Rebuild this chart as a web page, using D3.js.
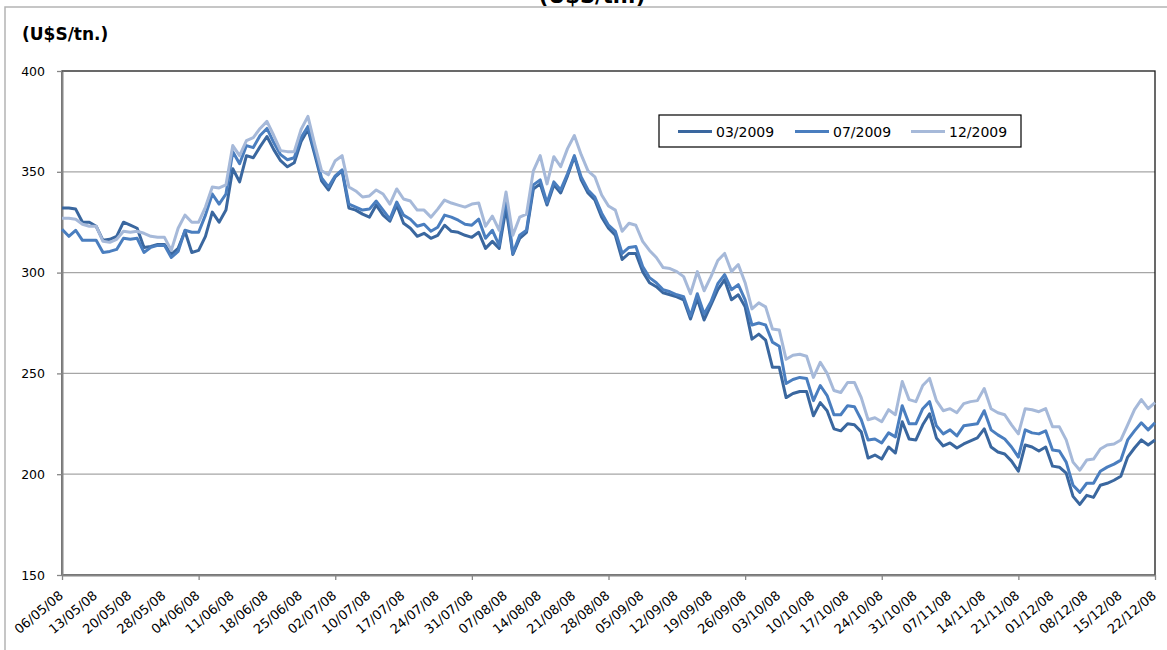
<!DOCTYPE html>
<html>
<head>
<meta charset="utf-8">
<script src="https://cdn.jsdelivr.net/npm/d3@7"></script>
<style>
  body { margin: 0; background: #fff; }
  svg { display: block; font-family: "DejaVu Sans", Verdana, sans-serif; }
</style>
</head>
<body>
<svg id="chart" width="1167" height="650"></svg>
<script>
// labels shown every 5th point on the category axis
const tickLabels = ["06/05/08", "13/05/08", "20/05/08", "28/05/08", "04/06/08", "11/06/08", "18/06/08",
  "25/06/08", "02/07/08", "10/07/08", "17/07/08", "24/07/08", "31/07/08", "07/08/08", "14/08/08",
  "21/08/08", "28/08/08", "05/09/08", "12/09/08", "19/09/08", "26/09/08", "03/10/08", "10/10/08",
  "17/10/08", "24/10/08", "31/10/08", "07/11/08", "14/11/08", "21/11/08", "01/12/08", "08/12/08",
  "15/12/08", "22/12/08"];

const seriesNames = ["03/2009", "07/2009", "12/2009"];

const mar09 = [
  332, 332, 331.5, 325, 325, 323, 316, 316.5, 318, 325,
  323.5, 322, 312.5, 313, 314, 314, 309, 312, 320.5, 310,
  311, 318, 330, 325, 331, 351.5, 345, 358, 357, 362.5,
  367.5, 361, 355.5, 352.5, 354.5, 365, 371, 358.5, 345.5, 341,
  347.5, 350.5, 332, 331, 329, 327.5, 333.5, 328.5, 325.5, 333.5,
  324.5, 322, 318, 319.5, 317, 318.5, 323.5, 320.5, 320, 318.5,
  317.5, 320, 312, 315.5, 312, 332, 309, 317, 320, 341.5,
  344, 333.5, 343.5, 339.5, 348, 357.5, 346, 339.5, 336, 327.5,
  322, 318.5, 306.5, 309.5, 309.5, 300.5, 295, 293, 290, 289,
  288, 286.5, 277, 287, 276.5, 284, 291.5, 296.5, 286.5, 289,
  283, 267, 269.5, 266.5, 253, 253, 238, 240, 241, 241,
  229, 235.5, 231.5, 222.5, 221.5, 225, 224.5, 221, 208, 209.5,
  207.5, 213.5, 210.5, 226, 217.5, 217, 224.5, 230, 218, 214,
  215.5, 213, 215, 216.5, 218, 222.5, 213.5, 211, 210, 206.5,
  201.5, 214.5, 213.5, 211.5, 213.5, 204, 203.5, 200.5, 189, 185,
  189.5, 188.5, 194.5, 195.5, 197, 199, 208.5, 213, 217, 214.5, 217
];

const jul09 = [
  321.5, 318, 321, 316, 316, 316, 310, 310.5, 311.5, 317,
  316.5, 317, 310, 312.5, 313.5, 313.5, 307.5, 310.5, 321, 320,
  320, 328.5, 339, 334, 339, 360, 354, 363, 362, 368,
  371.5, 364.5, 358.5, 356, 357, 367, 372.5, 360, 347, 342.5,
  348, 351, 334, 332.5, 331, 331.5, 335.5, 331, 326.5, 335,
  328.5, 326.5, 323, 324, 320.5, 322.5, 328.5, 327.5, 326, 324,
  323.5, 326.5, 317, 321, 313.5, 337.5, 309.5, 318.5, 321, 343.5,
  346, 334.5, 345, 341, 349, 358, 347.5, 341, 337.5, 329.5,
  323.5, 320.5, 309.5, 312.5, 313, 303, 297.5, 295, 291.5, 290.5,
  289, 288, 278.5, 289.5, 279.5, 285.5, 294.5, 299, 291.5, 294,
  286.5, 274, 275, 274, 265.5, 263.5, 245, 247, 248, 247.5,
  236.5, 244, 239, 229.5, 229.5, 234, 233.5, 227, 217, 217.5,
  215.5, 220.5, 218.5, 234, 225, 225, 232.5, 236, 224, 220,
  222, 219, 224, 224.5, 225, 231.5, 222, 219.5, 217.5, 213.5,
  208.5, 222, 220.5, 220, 221.5, 212, 211.5, 206, 194.5, 191,
  195.5, 195.5, 201.5, 203.5, 205, 207, 217, 221.5, 225.5, 222, 225.5
];

const dec09 = [
  327, 327, 326.5, 324, 323, 323, 315.5, 315, 316.5, 320.5,
  320, 320.5, 319.5, 318, 317.5, 317.5, 311, 322, 328.5, 325,
  325, 332.5, 342.5, 342, 343.5, 363, 358, 365.5, 367, 371.5,
  375, 368, 360.5, 360, 360, 371, 377.5, 363.5, 350.5, 348.5,
  355.5, 358, 342.5, 340.5, 337.5, 338, 341, 339, 334, 341.5,
  336.5, 335.5, 331, 331, 327.5, 331.5, 336, 334.5, 333.5, 332.5,
  334, 334.5, 323, 328, 321, 340, 318.5, 327.5, 329, 350.5,
  358, 344, 357.5, 352.5, 361.5, 368, 358.5, 350.5, 347.5, 338.5,
  333, 331, 320.5, 324.5, 323.5, 315.5, 311, 307.5, 302.5, 302,
  300.5, 298, 289.5, 300.5, 291, 298, 306, 309.5, 300.5, 304,
  295, 282, 285, 283, 272, 271.5, 257, 259, 259.5, 258.5,
  248, 255.5, 250, 241.5, 240.5, 245.5, 245.5, 238, 227, 228,
  226, 232, 229.5, 246, 237, 236, 244, 247.5, 236.5, 231.5,
  232.5, 230.5, 235, 236, 236.5, 242.5, 232.5, 230.5, 229.5, 224.5,
  220, 232.5, 232, 231, 232.5, 223.5, 223.5, 217, 206, 202,
  207, 207.5, 212.5, 214.5, 215, 217, 224.5, 232, 237, 232.5, 235.5
];

const yTicks = [150, 200, 250, 300, 350, 400];

const svg = d3.select("#chart");
const colors = ["#3a679f", "#4a7ebf", "#a6b9d9"];
const plotLeft = 62, plotRight = 1155, plotTop = 71, plotBottom = 575;

const x = d3.scaleLinear().domain([0, mar09.length - 1]).range([plotLeft, plotRight]);
const y = d3.scaleLinear().domain([150, 400]).range([plotBottom, plotTop]);

// outer chart border (cut by the picture edge)
svg.append("rect")
  .attr("x", 5).attr("y", 7)
  .attr("width", 1200).attr("height", 700)
  .attr("fill", "none").attr("stroke", "#b4b4b4").attr("stroke-width", 1.5);

// title, mostly cut off by the top edge in the source
svg.append("text")
  .attr("x", 592).attr("y", 3)
  .attr("text-anchor", "middle")
  .attr("font-size", 21).attr("font-weight", "bold")
  .text("(U$S/tn.)");

svg.append("text")
  .attr("x", 22).attr("y", 40)
  .attr("font-size", 17).attr("font-weight", "bold")
  .text("(U$S/tn.)");

// gridlines
svg.append("g").selectAll("line")
  .data(yTicks.filter(d => d > 150 && d < 400))
  .join("line")
  .attr("x1", plotLeft).attr("x2", plotRight)
  .attr("y1", d => y(d)).attr("y2", d => y(d))
  .attr("stroke", "#a6a6a6").attr("stroke-width", 1.2);

// plot area border
svg.append("rect")
  .attr("x", plotLeft).attr("y", plotTop)
  .attr("width", plotRight - plotLeft).attr("height", plotBottom - plotTop)
  .attr("fill", "none").attr("stroke", "#1a1a1a").attr("stroke-width", 1.3);

// y axis
const yAxis = svg.append("g")
  .attr("transform", `translate(${plotLeft},0)`)
  .call(d3.axisLeft(y).tickValues(yTicks).tickSize(5).tickPadding(12).tickSizeOuter(0));
yAxis.select(".domain").attr("stroke", "#868686").attr("stroke-width", 2);
yAxis.selectAll(".tick line").attr("stroke", "#868686").attr("stroke-width", 1.3);
yAxis.selectAll(".tick text").attr("font-size", 12.5).attr("fill", "#000")
  .style("font-family", "'DejaVu Sans', Verdana, sans-serif");

// x axis: marks every 20 points, labels every 5
const xAxis = svg.append("g")
  .attr("transform", `translate(0,${plotBottom})`)
  .call(d3.axisBottom(x).tickValues(d3.range(0, mar09.length, 20)).tickSize(5).tickFormat("").tickSizeOuter(0));
xAxis.select(".domain").attr("stroke", "#868686").attr("stroke-width", 2);
xAxis.selectAll(".tick line").attr("stroke", "#868686").attr("stroke-width", 1.3);

svg.append("g").selectAll("text")
  .data(tickLabels)
  .join("text")
  .attr("transform", (d, i) => `translate(${x(i * 5) + 2},${plotBottom + 22}) rotate(-40)`)
  .attr("text-anchor", "end")
  .attr("font-size", 13)
  .text(d => d);

// series lines
const line = d3.line()
  .x((d, i) => x(i))
  .y(d => y(d));

svg.append("g").selectAll("path")
  .data([mar09, jul09, dec09])
  .join("path")
  .attr("fill", "none")
  .attr("stroke", (d, i) => colors[i])
  .attr("stroke-width", 3)
  .attr("stroke-linejoin", "round")
  .attr("d", line);

// legend
const legend = svg.append("g");
legend.append("rect")
  .attr("x", 659).attr("y", 115)
  .attr("width", 362).attr("height", 32)
  .attr("fill", "#fff").attr("stroke", "#000").attr("stroke-width", 1.2);

const legendX = [678, 795, 911];
const items = legend.selectAll("g.item")
  .data(seriesNames)
  .join("g")
  .attr("class", "item")
  .attr("transform", (d, i) => `translate(${legendX[i]},131.5)`);
items.append("line")
  .attr("x1", 0).attr("x2", 34)
  .attr("stroke", (d, i) => colors[i])
  .attr("stroke-width", 3);
items.append("text")
  .attr("x", 38).attr("y", 5)
  .attr("font-size", 14)
  .text(d => d);
</script>
</body>
</html>
